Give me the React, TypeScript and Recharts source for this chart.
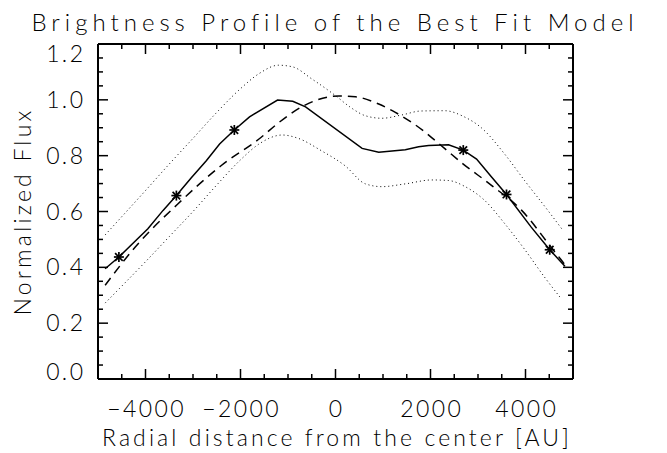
import React from 'react';
import { ComposedChart, Line, XAxis, YAxis } from 'recharts';

// observed profile (solid line)
const observedX = [-4850, -4560, -3950, -3630, -3350, -3040, -2720, -2440, -2130, -1810, -1220, -900, -630, 560, 910, 1470, 1750, 1960, 2380, 2690, 2970, 3290, 3600, 4120, 4510, 4830];
const observedFlux = [0.395, 0.437, 0.538, 0.604, 0.657, 0.72, 0.782, 0.842, 0.892, 0.939, 0.999, 0.995, 0.975, 0.826, 0.812, 0.821, 0.832, 0.836, 0.839, 0.82, 0.788, 0.723, 0.661, 0.544, 0.463, 0.404];

// points marked with asterisks
const sampleX = [-4560, -3350, -2130, 2690, 3600, 4510];
const sampleFlux = [0.437, 0.657, 0.892, 0.82, 0.661, 0.463];

// best fit model (dashed)
const modelX = [-4850, -4220, -3320, -2410, -1570, -1190, -630, 70, 420, 910, 1260, 1850, 2100, 2690, 3290, 3920, 4540, 4750, 4870];
const modelFlux = [0.336, 0.472, 0.627, 0.764, 0.865, 0.919, 0.982, 1.014, 1.011, 0.985, 0.955, 0.889, 0.854, 0.77, 0.693, 0.604, 0.472, 0.427, 0.4];

// error envelope (dotted)
const upperX = [-4850, -4400, -4000, -3500, -3000, -2500, -2000, -1600, -1200, -900, -500, 0, 300, 630, 975, 1400, 1800, 2300, 2700, 3070, 3560, 3980, 4470, 4790];
const upperFlux = [0.516, 0.6, 0.675, 0.77, 0.862, 0.955, 1.04, 1.095, 1.124, 1.118, 1.075, 1.015, 0.975, 0.943, 0.934, 0.946, 0.96, 0.961, 0.94, 0.9, 0.806, 0.711, 0.604, 0.532];
const lowerX = [-4850, -4400, -4000, -3500, -3000, -2500, -2000, -1600, -1120, -800, -300, 200, 630, 975, 1470, 2030, 2380, 2730, 3145, 3565, 4000, 4400, 4750];
const lowerFlux = [0.272, 0.35, 0.42, 0.51, 0.6, 0.695, 0.785, 0.843, 0.874, 0.863, 0.818, 0.764, 0.699, 0.689, 0.699, 0.713, 0.711, 0.689, 0.639, 0.556, 0.46, 0.365, 0.288];

const xTicks = [-5000, -4500, -4000, -3500, -3000, -2500, -2000, -1500, -1000, -500, 0, 500, 1000, 1500, 2000, 2500, 3000, 3500, 4000, 4500, 5000];
const xLabelTicks = [-4000, -2000, 0, 2000, 4000];
const yTicks = [0, 0.05, 0.1, 0.15, 0.2, 0.25, 0.3, 0.35, 0.4, 0.45, 0.5, 0.55, 0.6, 0.65, 0.7, 0.75, 0.8, 0.85, 0.9, 0.95, 1.0, 1.05, 1.1, 1.15, 1.2];
const yLabelTicks = [0, 0.2, 0.4, 0.6, 0.8, 1.0, 1.2];

const FONT = 'Lato, "DejaVu Sans", sans-serif';
const LABEL_SIZE = 23;
const LABEL_SPACING = 2.4;

const zip = (xs: number[], ys: number[]) => xs.map((x, i) => ({ x, y: ys[i] }));

const isXMajor = (v: number) => xLabelTicks.includes(v);
const isYMajor = (v: number) => yLabelTicks.some(t => Math.abs(t - v) < 1e-6);

const fmtX = (v: number) => (v < 0 ? '\u2212' + Math.abs(v) : String(v));

const labelStyle = {
  fontFamily: FONT,
  fontWeight: 300,
  fontSize: LABEL_SIZE,
  letterSpacing: LABEL_SPACING,
  fill: '#000',
};

const BottomTick = ({ x, y, payload }: any) => {
  const v = payload.value;
  const major = isXMajor(v);
  return (
    <g>
      <line x1={x} x2={x} y1={y} y2={y - (major ? 10 : 5)} stroke="#000" strokeWidth={1.5} />
      {major && (
        <text x={x + LABEL_SPACING / 2} y={y + 38} textAnchor="middle" {...labelStyle}>
          {fmtX(v)}
        </text>
      )}
    </g>
  );
};

const TopTick = ({ x, y, payload }: any) => {
  const major = isXMajor(payload.value);
  return <line x1={x} x2={x} y1={y} y2={y + (major ? 10 : 5)} stroke="#000" strokeWidth={1.5} />;
};

const LeftTick = ({ x, y, payload }: any) => {
  const v = payload.value;
  const major = isYMajor(v);
  // end labels are pulled inside the axis range
  let baseline = y + 8;
  if (Math.abs(v) < 1e-6) baseline = y + 1;
  if (Math.abs(v - 1.2) < 1e-6) baseline = y + 18;
  return (
    <g>
      <line x1={x} x2={x + (major ? 10 : 5)} y1={y} y2={y} stroke="#000" strokeWidth={1.5} />
      {major && (
        <text x={x - 15 + LABEL_SPACING} y={baseline} textAnchor="end" {...labelStyle}>
          {v.toFixed(1)}
        </text>
      )}
    </g>
  );
};

const RightTick = ({ x, y, payload }: any) => {
  const major = isYMajor(payload.value);
  return <line x1={x} x2={x - (major ? 10 : 5)} y1={y} y2={y} stroke="#000" strokeWidth={1.5} />;
};

const Asterisk = ({ cx, cy }: any) => {
  if (cx == null || cy == null) return null;
  const r = 5;
  const d = 3.8;
  return (
    <g stroke="#000" strokeWidth={1.7}>
      <line x1={cx - r} x2={cx + r} y1={cy} y2={cy} />
      <line x1={cx} x2={cx} y1={cy - r} y2={cy + r} />
      <line x1={cx - d} x2={cx + d} y1={cy - d} y2={cy + d} />
      <line x1={cx - d} x2={cx + d} y1={cy + d} y2={cy - d} />
    </g>
  );
};

const YLabel = ({ viewBox }: any) => {
  const cy = viewBox.y + viewBox.height / 2;
  return (
    <text x={22} y={cy} transform={`rotate(-90, 22, ${cy})`} textAnchor="middle" dominantBaseline="central" {...labelStyle} letterSpacing={3.2}>
      Normalized Flux
    </text>
  );
};

const XLabel = ({ viewBox }: any) => {
  const cx = viewBox.x + viewBox.width / 2;
  return (
    <text x={cx + 1.5} y={viewBox.y + 67} textAnchor="middle" {...labelStyle} letterSpacing={3.1}>
      Radial distance from the center [AU]
    </text>
  );
};

export default function App() {
  return (
    <div style={{ position: 'absolute', left: 0, top: 0, width: 667, height: 453, background: '#fff' }}>
      <svg width={667} height={44} style={{ position: 'absolute', left: 0, top: 0 }}>
        <text x={335} y={31} textAnchor="middle" fontFamily={FONT} fontWeight={300} fontSize={24} letterSpacing={5} fill="#000">
          Brightness Profile of the Best Fit Model
        </text>
      </svg>
      <ComposedChart width={667} height={453} margin={{ top: 34, right: 84, bottom: 0, left: 0 }}>
        <XAxis
          xAxisId="b" dataKey="x" type="number" domain={[-5000, 5000]} allowDataOverflow ticks={xTicks}
          height={74} tickSize={0} tickMargin={0} tickLine={false} tick={<BottomTick />} interval={0}
          axisLine={{ stroke: '#000', strokeWidth: 2 }} label={<XLabel />}
        />
        <XAxis
          xAxisId="t" orientation="top" dataKey="x" type="number" domain={[-5000, 5000]} allowDataOverflow ticks={xTicks}
          height={10} tickSize={0} tickMargin={0} tickLine={false} tick={<TopTick />} interval={0}
          axisLine={{ stroke: '#000', strokeWidth: 2 }}
        />
        <YAxis
          yAxisId="l" type="number" domain={[0, 1.2]} allowDataOverflow ticks={yTicks}
          width={98} tickSize={0} tickMargin={0} tickLine={false} tick={<LeftTick />} interval={0}
          axisLine={{ stroke: '#000', strokeWidth: 2 }} label={<YLabel />}
        />
        <YAxis
          yAxisId="r" orientation="right" type="number" domain={[0, 1.2]} allowDataOverflow ticks={yTicks}
          width={10} tickSize={0} tickMargin={0} tickLine={false} tick={<RightTick />} interval={0}
          axisLine={{ stroke: '#000', strokeWidth: 2 }}
        />
        <Line xAxisId="b" yAxisId="l" data={zip(upperX, upperFlux)} dataKey="y" type="monotone" stroke="#000" strokeWidth={1} strokeDasharray="1 3" dot={false} isAnimationActive={false} />
        <Line xAxisId="b" yAxisId="l" data={zip(lowerX, lowerFlux)} dataKey="y" type="monotone" stroke="#000" strokeWidth={1} strokeDasharray="1 3" dot={false} isAnimationActive={false} />
        <Line xAxisId="b" yAxisId="l" data={zip(modelX, modelFlux)} dataKey="y" type="monotone" stroke="#000" strokeWidth={1.5} strokeDasharray="9 6" dot={false} isAnimationActive={false} />
        <Line xAxisId="b" yAxisId="l" data={zip(observedX, observedFlux)} dataKey="y" type="linear" stroke="#000" strokeWidth={1.5} dot={false} isAnimationActive={false} />
        <Line xAxisId="b" yAxisId="l" data={zip(sampleX, sampleFlux)} dataKey="y" stroke="none" dot={(p: any) => <Asterisk key={p.index} cx={p.cx} cy={p.cy} />} isAnimationActive={false} />
      </ComposedChart>
    </div>
  );
}
